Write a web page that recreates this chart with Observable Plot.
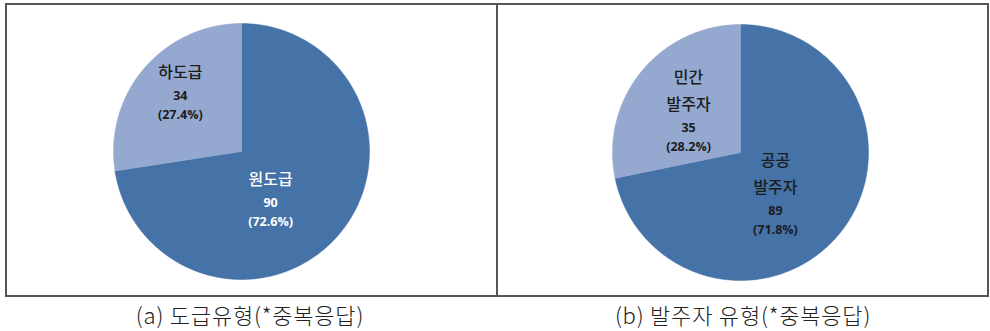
<!DOCTYPE html>
<html><head><meta charset="utf-8">
<script src="https://cdn.jsdelivr.net/npm/d3@7"></script>
<script src="https://cdn.jsdelivr.net/npm/@observablehq/plot@0.6"></script>
<style>
body{margin:0;background:#fff;}
#wrap{position:relative;width:990px;height:331px;overflow:hidden;font-family:"Noto Sans CJK KR",sans-serif;}
#box{position:absolute;left:5px;top:3px;width:984px;height:294px;border:2px solid #555;box-sizing:border-box;}
#divider{position:absolute;left:496px;top:3px;width:2px;height:294px;background:#555;}
.panel{position:absolute;top:0;}
.cap{position:absolute;top:300px;height:30px;line-height:28px;font-size:22px;letter-spacing:0.8px;color:#222;text-align:center;white-space:nowrap;font-weight:300;}
</style></head>
<body><div id="wrap"><div id="box"></div><div id="divider"></div>
<div id="pa" class="panel" style="left:0px"></div>
<div id="pb" class="panel" style="left:497px"></div>
<div class="cap" style="left:0;width:500px">(a) 도급유형(*중복응답)</div>
<div class="cap" style="left:493px;width:500px">(b) 발주자 유형(*중복응답)</div>
</div>
<script>
// ---- data ----
const categoriesA = [["원도급"], ["하도급"]];
const valuesA = [90, 34];
const categoriesB = [["공공", "발주자"], ["민간", "발주자"]];
const valuesB = [89, 35];

// ---- style / layout ----
const sliceColors = ["#4572A7", "#94A8D0"];
const panels = [
  {el: "#pa", cats: categoriesA, vals: valuesA, width: 497, cx: 241, cy: 151, R: 128,
   labelColors: ["#ffffff", "#1c1c1c"], place: [{shift: 18.7, r: 0.445}, {shift: 2.8, r: 0.658}]},
  {el: "#pb", cats: categoriesB, vals: valuesB, width: 493, cx: 243, cy: 152, R: 128,
   labelColors: ["#1c1c1c", "#1c1c1c"], place: [{shift: 11.7, r: 0.433}, {shift: -1.6, r: 0.512}]}
];
const fmtPct = d3.format(".1%");

function build(p) {
  const total = d3.sum(p.vals);
  let start = 0;
  const marks = [];
  const nameLines = [], numLines = [];
  p.vals.forEach((v, i) => {
    const a0 = start, a1 = start + v / total * 2 * Math.PI;
    start = a1;
    const pts = [{x: 0, y: 0}];
    const n = Math.max(2, Math.ceil((a1 - a0) / (Math.PI / 360)));
    for (let k = 0; k <= n; k++) {
      const t = a0 + (a1 - a0) * k / n;
      pts.push({x: Math.sin(t), y: Math.cos(t)});
    }
    pts.push({x: 0, y: 0});
    marks.push(Plot.line(pts, {x: "x", y: "y", fill: sliceColors[i], stroke: sliceColors[i], strokeWidth: 0.5}));
    const mid = (a0 + a1) / 2 + p.place[i].shift * Math.PI / 180;
    const lx = p.place[i].r * Math.sin(mid), ly = p.place[i].r * Math.cos(mid);
    const names = p.cats[i];
    const offs = [];
    names.forEach((_, j) => offs.push(j * 27));
    const vOff = offs[offs.length - 1] + 23, pOff = vOff + 19;
    const c = pOff / 2;
    names.forEach((nm, j) => nameLines.push({x: lx, y: ly, text: nm, dy: offs[j] - c, color: p.labelColors[i]}));
    numLines.push({x: lx, y: ly, text: String(v), dy: vOff - c, color: p.labelColors[i]});
    numLines.push({x: lx, y: ly, text: "(" + fmtPct(v / total) + ")", dy: pOff - c, color: p.labelColors[i]});
  });
  for (const d of nameLines) marks.push(Plot.text([d], {x: "x", y: "y", text: "text", dy: d.dy, fill: d.color, fontSize: 16, fontWeight: 500, fontFamily: "Noto Sans CJK KR"}));
  for (const d of numLines) marks.push(Plot.text([d], {x: "x", y: "y", text: "text", dy: d.dy, fill: d.color, fontSize: 12.5, fontWeight: "bold", fontFamily: "Open Sans"}));
  const svg = Plot.plot({
    width: p.width, height: 298, margin: 0,
    style: {background: "transparent", overflow: "visible"},
    x: {domain: [-1, 1], range: [p.cx - p.R, p.cx + p.R], axis: null},
    y: {domain: [-1, 1], range: [p.cy + p.R, p.cy - p.R], axis: null},
    marks
  });
  document.querySelector(p.el).append(svg);
}
panels.forEach(build);
</script></body></html>
